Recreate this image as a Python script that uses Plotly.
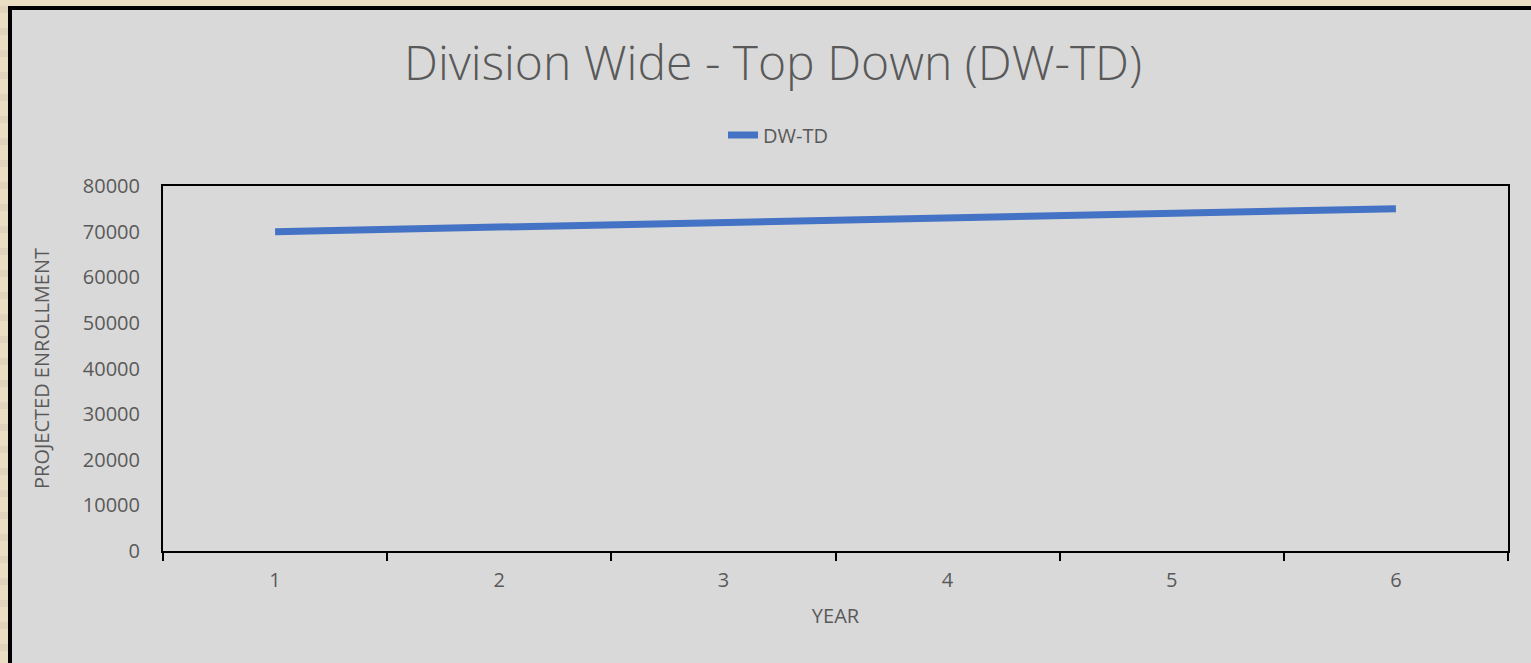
import plotly.graph_objects as go

years = ["1", "2", "3", "4", "5", "6"]
enrollment = [70000, 71000, 72000, 73000, 74000, 75000]
series_name = "DW-TD"
title_text = "Division Wide - Top Down (DW-TD)"
y_title = "PROJECTED ENROLLMENT"
x_title = "YEAR"

W, H = 1531, 663
L, R, T, B = 163, 23, 186, 112
pw, ph = W - L - R, H - T - B

def px_x(p):
    return (p - L) / pw

def px_y(p):
    return (H - B - p) / ph

fig = go.Figure()
fig.add_trace(go.Scatter(
    x=years, y=enrollment, mode="lines", name=series_name,
    line=dict(color="#4472c4", width=7),
))

shapes = []
# stripes on left beige margin
for i in range(31):
    y0 = 6 + i * 22
    shapes.append(dict(type="rect", xref="paper", yref="paper", layer="below",
                       x0=px_x(0), x1=px_x(8), y0=px_y(y0), y1=px_y(y0 + 7),
                       fillcolor="#e0d5bc", line=dict(width=0)))
# chart frame
shapes.append(dict(type="rect", xref="paper", yref="paper", layer="below",
                   x0=px_x(10), x1=px_x(1620), y0=px_y(8), y1=px_y(720),
                   fillcolor="#d9d9d9", line=dict(color="#000000", width=4)))

fig.update_layout(
    width=W, height=H,
    margin=dict(l=L, r=R, t=T, b=B),
    paper_bgcolor="#e9ddc4",
    plot_bgcolor="#d9d9d9",
    font=dict(family="Open Sans", color="#595959", size=20),
    title=dict(text=title_text, x=773 / W, xref="container", xanchor="center",
               y=1 - 63 / H, yanchor="middle",
               font=dict(size=48, color="#595959", family="Open Sans", weight=300)),
    showlegend=True,
    legend=dict(orientation="h", x=px_x(778), xanchor="center",
                y=px_y(135), yanchor="middle", bgcolor="rgba(0,0,0,0)",
                font=dict(size=20, color="#595959")),
    shapes=shapes,
)
fig.update_xaxes(
    type="category", range=[-0.5, 5.5], tickson="boundaries",
    ticks="outside", ticklen=8, tickcolor="#000000", tickwidth=1.5,
    showline=True, linecolor="#000000", linewidth=2, mirror=True,
    showgrid=False, zeroline=False,
    ticklabelstandoff=10,
    tickfont=dict(size=20, color="#595959"),
    title=dict(text=x_title, font=dict(size=20, color="#595959"), standoff=17),
)
fig.update_yaxes(
    range=[0, 80000], dtick=10000, ticks="", tickformat="d",
    showline=True, linecolor="#000000", linewidth=2, mirror=True,
    showgrid=False, zeroline=False,
    ticklabelstandoff=17,
    tickfont=dict(size=20, color="#595959"),
    title=dict(text=y_title, font=dict(size=20, color="#595959"), standoff=28),
)

fig.write_html("out.html", config={"displayModeBar": False},
               post_script="document.body.style.margin='0';document.body.style.background='#e9ddc4';")
